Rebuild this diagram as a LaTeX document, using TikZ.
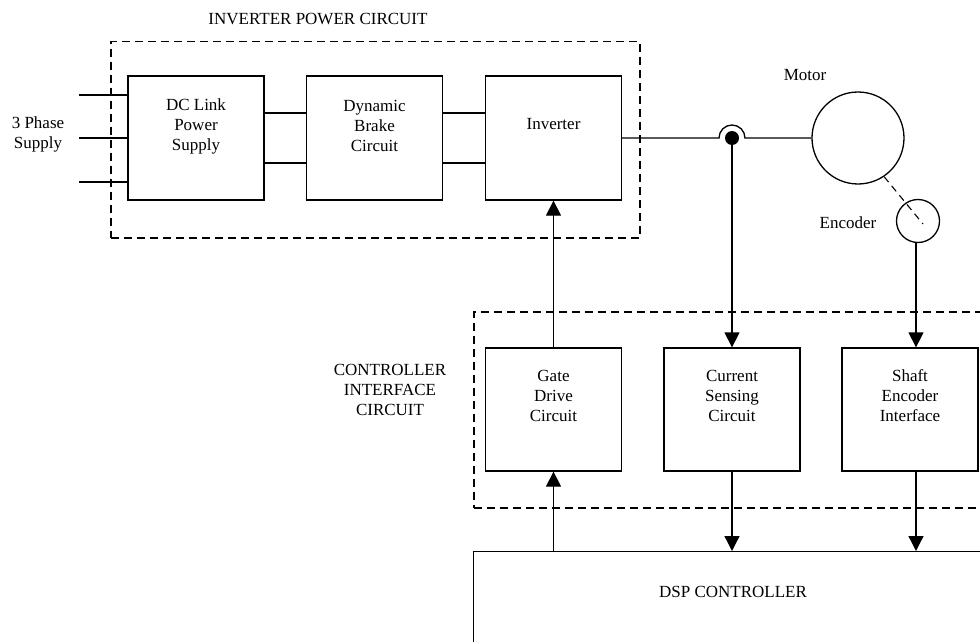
\documentclass[tikz,border=0pt]{standalone}
\usepackage{fontspec}
\setmainfont{Liberation Serif}
\usetikzlibrary{arrows.meta}
\begin{document}
\begin{tikzpicture}[x=1pt,y=1pt,
  wire/.style={line width=1.3pt},
  box/.style={draw, wire, minimum width=136pt, minimum height=124pt, inner sep=0pt},
  lbl/.style={font=\fontsize{17}{20}\selectfont, align=center, inner sep=0pt},
  arr/.style={wire, -{Triangle[width=15pt,length=15pt]}},
  grp/.style={draw, line width=1.5pt, dash pattern=on 8pt off 5pt, inner sep=0pt, anchor=north west}]
\clip (0,0) rectangle (980,-642);
\fill[white] (0,0) rectangle (980,-642);
% groups
\node[grp, minimum width=529pt, minimum height=196pt] (ipc) at (110,-41) {};
\node[grp, minimum width=540pt, minimum height=196pt] (cic) at (473,-311) {};
\node[lbl] (ipct) at (318,-19) {INVERTER POWER CIRCUIT};
\node[lbl] (cict) at (390,-390) {CONTROLLER\\INTERFACE\\CIRCUIT};
% top boxes
\node[box] (dc) at (196,-138) {};
\node[box] (dyn) at (374.5,-138) {};
\node[box] (inv) at (553.5,-138) {};
\node[lbl] (dct) at (196,-126) {DC Link\\Power\\Supply};
\node[lbl] (dynt) at (374.5,-126) {Dynamic\\Brake\\Circuit};
\node[lbl] (invt) at (553.5,-124) {Inverter};
% bottom boxes
\node[box, minimum height=123pt] (gate) at (553.5,-409.5) {};
\node[box, minimum height=123pt] (cur) at (732,-409.5) {};
\node[box, minimum height=123pt] (shaft) at (910,-409.5) {};
\node[lbl] (gatet) at (553.5,-396) {Gate\\Drive\\Circuit};
\node[lbl] (curt) at (732,-396) {Current\\Sensing\\Circuit};
\node[lbl] (shaftt) at (910,-396) {Shaft\\Encoder\\Interface};
% DSP
\node[draw, wire, anchor=north west, minimum width=540pt, minimum height=160pt, inner sep=0pt] (dsp) at (473,-551) {};
\node[lbl] (dspt) at (733,-592) {DSP CONTROLLER};
% motor and encoder
\node[draw, wire, circle, minimum size=92pt, inner sep=0pt] (motor) at (858,-138) {};
\node[draw, wire, circle, minimum size=43pt, inner sep=0pt] (enc) at (918,-221) {};
\node[lbl] (motort) at (805,-75) {Motor};
\node[lbl] (enct) at (848,-223) {Encoder};
\coordinate (encend) at (923,-224);
\draw[line width=1.1pt, dash pattern=on 7pt off 5pt] (motor.-56) -- (encend);
% supply
\node[lbl] (supt) at (38,-134) {3 Phase\\Supply};
\coordinate (s1) at (79,-95);
\coordinate (s2) at (79,-138);
\coordinate (s3) at (79,-182);
\draw[wire] (s1) -- (s1 -| dc.west);
\draw[wire] (s2) -- (s2 -| dc.west);
\draw[wire] (s3) -- (s3 -| dc.west);
% links
\draw[wire] ([yshift=25pt]dc.east) -- ([yshift=25pt]dyn.west);
\draw[wire] ([yshift=-25pt]dc.east) -- ([yshift=-25pt]dyn.west);
\draw[wire] ([yshift=25pt]dyn.east) -- ([yshift=25pt]inv.west);
\draw[wire] ([yshift=-25pt]dyn.east) -- ([yshift=-25pt]inv.west);
\coordinate (jc) at (732,-138);
\draw[wire] (inv.east) -- ([xshift=-13pt]jc) arc[start angle=180, end angle=0, radius=13pt] -- (motor.west);
\node[circle, fill, minimum size=14pt, inner sep=0pt] (dot) at (jc) {};
\draw[arr] (dot.center) -- (cur.north);
\draw[arr] (gate.north) -- (inv.south);
\draw[arr] (gate.south |- dsp.north) -- (gate.south);
\draw[arr] (cur.south) -- (cur.south |- dsp.north);
\draw[arr] ([xshift=-2pt]enc.south) -- ([xshift=-2pt]enc.south |- shaft.north);
\draw[arr] ([xshift=-2pt]enc.south |- shaft.south) -- ([xshift=-2pt]enc.south |- dsp.north);
\end{tikzpicture}
\end{document}
